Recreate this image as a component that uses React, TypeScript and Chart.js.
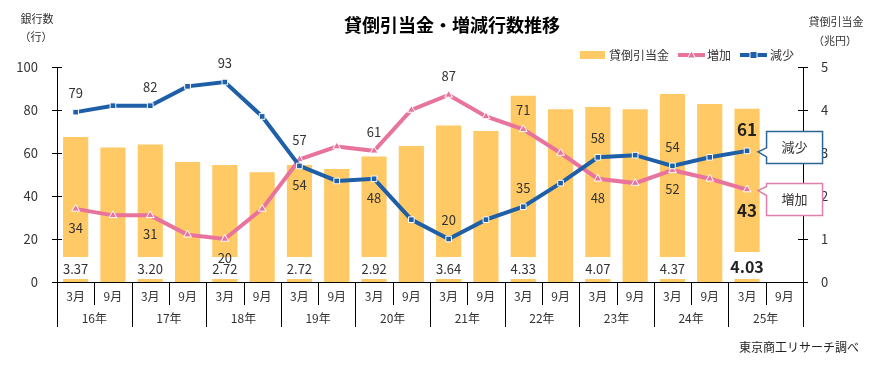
import React, { useEffect, useRef } from "react";
import { Chart, registerables } from "chart.js";

Chart.register(...registerables);

const years = ["16年", "17年", "18年", "19年", "20年", "21年", "22年", "23年", "24年", "25年"];
const months = ["3月", "9月"];
const categories = years.flatMap((y) => months.map((m) => y + m));

// 貸倒引当金 (兆円)
const allowance = [3.37, 3.13, 3.2, 2.79, 2.72, 2.55, 2.72, 2.63, 2.92, 3.16, 3.64, 3.51, 4.33, 4.02, 4.07, 4.02, 4.37, 4.14, 4.03, null];
// 増加 (行)
const increase = [34, 31, 31, 22, 20, 34, 57, 63, 61, 80, 87, 77, 71, 60, 48, 46, 52, 48, 43, null];
// 減少 (行)
const decrease = [79, 82, 82, 91, 93, 77, 54, 47, 48, 29, 20, 29, 35, 46, 58, 59, 54, 58, 61, null];

// label placement for the March points: 1 = above, -1 = below, 0 = none
const increaseLabelSide = [-1, 0, -1, 0, -1, 0, 1, 0, 1, 0, 1, 0, 1, 0, -1, 0, -1, 0, -1, 0];
const decreaseLabelSide = [1, 0, 1, 0, 1, 0, -1, 0, -1, 0, 1, 0, 1, 0, 1, 0, 1, 0, 1, 0];

const BAR = "#FFC966";
const PINK = "#E8739C";
const BLUE = "#1E5FA8";
const FONT = "'Noto Sans CJK JP', 'Noto Sans', sans-serif";
const TXT = "#333333";

const overlay = {
  id: "overlay",
  afterDatasetsDraw(chart: any) {
    const ctx = chart.ctx as CanvasRenderingContext2D;
    const xs = chart.scales.x;
    const ys = chart.scales.y;
    const ca = chart.chartArea;
    const last = allowance.length - 2; // last data index (19th)
    ctx.save();

    // bar value labels with white background
    const barMeta = chart.getDatasetMeta(0);
    allowance.forEach((v, i) => {
      if (v == null || i % 2 !== 0) return;
      const el: any = barMeta.data[i];
      const bold = i === last;
      const txt = v.toFixed(2);
      ctx.font = (bold ? "bold 16px " : "13px ") + FONT;
      const tw = ctx.measureText(txt).width;
      const w = Math.max(el.width, tw + 2);
      const h = bold ? 27 : 22;
      ctx.fillStyle = "#ffffff";
      ctx.fillRect(el.x - w / 2, ca.bottom - 3 - h, w, h);
      ctx.fillStyle = bold ? "#222" : TXT;
      ctx.textAlign = "center";
      ctx.textBaseline = "middle";
      ctx.fillText(txt, el.x, ca.bottom - 3 - h / 2 + 1);
    });

    // line labels
    const drawLineLabels = (data: (number | null)[], side: number[]) => {
      data.forEach((v, i) => {
        if (v == null || !side[i]) return;
        const bold = i === last;
        const x = xs.getPixelForValue(i);
        const y = ys.getPixelForValue(v) - side[i] * (bold ? 21 : 19);
        ctx.font = (bold ? "bold 17px " : "13px ") + FONT;
        ctx.fillStyle = bold ? "#222" : TXT;
        ctx.textAlign = "center";
        ctx.textBaseline = "middle";
        ctx.fillText(String(v), x, y);
      });
    };
    drawLineLabels(increase, increaseLabelSide);
    drawLineLabels(decrease, decreaseLabelSide);
    ctx.restore();
  },
  afterDraw(chart: any) {
    const ctx = chart.ctx as CanvasRenderingContext2D;
    const xs = chart.scales.x;
    const ys = chart.scales.y;
    const y1 = chart.scales.y1;
    const ca = chart.chartArea;
    const last = allowance.length - 2;
    ctx.save();

    // axes lines
    ctx.strokeStyle = "#000";
    ctx.lineWidth = 1;
    const axisBottom = ca.bottom + 45;
    ctx.beginPath();
    ctx.moveTo(Math.round(ca.left) + 0.5, ca.top);
    ctx.lineTo(Math.round(ca.left) + 0.5, axisBottom);
    ctx.moveTo(Math.round(ca.right) + 0.5, ca.top);
    ctx.lineTo(Math.round(ca.right) + 0.5, axisBottom);
    ctx.moveTo(ca.left, Math.round(ca.bottom) + 0.5);
    ctx.lineTo(ca.right, Math.round(ca.bottom) + 0.5);
    // y tick marks
    ys.ticks.forEach((t: any) => {
      const y = Math.round(ys.getPixelForValue(t.value)) + 0.5;
      ctx.moveTo(ca.left - 5, y);
      ctx.lineTo(ca.left + 5, y);
    });
    y1.ticks.forEach((t: any) => {
      const y = Math.round(y1.getPixelForValue(t.value)) + 0.5;
      ctx.moveTo(ca.right - 5, y);
      ctx.lineTo(ca.right + 5, y);
    });
    // category separators
    for (let i = 0; i < categories.length - 1; i++) {
      const bx = Math.round((xs.getPixelForValue(i) + xs.getPixelForValue(i + 1)) / 2) + 0.5;
      ctx.moveTo(bx, ca.bottom);
      ctx.lineTo(bx, i % 2 === 0 ? ca.bottom + 23 : axisBottom);
    }
    ctx.stroke();

    // month / year labels
    ctx.fillStyle = TXT;
    ctx.font = "12px " + FONT;
    ctx.textAlign = "center";
    ctx.textBaseline = "middle";
    categories.forEach((_, i) => {
      ctx.fillText(months[i % 2], xs.getPixelForValue(i), ca.bottom + 14);
    });
    years.forEach((yl, j) => {
      const cx = (xs.getPixelForValue(2 * j) + xs.getPixelForValue(2 * j + 1)) / 2;
      ctx.fillText(yl, cx, ca.bottom + 36);
    });

    // title
    ctx.fillStyle = "#000";
    ctx.font = "bold 18px " + FONT;
    ctx.fillText("貸倒引当金・増減行数推移", 452, 25);

    // axis titles
    ctx.fillStyle = TXT;
    ctx.font = "11px " + FONT;
    ctx.fillText("銀行数", 37, 19);
    ctx.fillText("（行）", 36, 37);
    ctx.fillText("貸倒引当金", 836, 22);
    ctx.fillText("（兆円）", 835, 41);

    // legend
    const ly = 55;
    ctx.fillStyle = BAR;
    ctx.fillRect(580, ly - 4, 25, 8);
    ctx.font = "12px " + FONT;
    ctx.fillStyle = TXT;
    ctx.textAlign = "left";
    ctx.fillText("貸倒引当金", 609, ly);
    ctx.fillText("増加", 707, ly);
    ctx.fillText("減少", 770, ly);
    ctx.lineWidth = 4;
    ctx.strokeStyle = PINK;
    ctx.beginPath();
    ctx.moveTo(678, ly);
    ctx.lineTo(705, ly);
    ctx.stroke();
    ctx.strokeStyle = BLUE;
    ctx.beginPath();
    ctx.moveTo(740, ly);
    ctx.lineTo(767, ly);
    ctx.stroke();
    // legend markers
    ctx.lineWidth = 1;
    ctx.strokeStyle = "#fff";
    ctx.fillStyle = PINK;
    ctx.beginPath();
    ctx.moveTo(691.5, ly - 4);
    ctx.lineTo(695.5, ly + 3);
    ctx.lineTo(687.5, ly + 3);
    ctx.closePath();
    ctx.fill();
    ctx.stroke();
    ctx.fillStyle = BLUE;
    ctx.fillRect(750, ly - 3.5, 7, 7);
    ctx.strokeRect(750, ly - 3.5, 7, 7);

    // callouts
    const callout = (label: string, v: number, color: string, dyTop: number) => {
      const px = xs.getPixelForValue(last);
      const py = ys.getPixelForValue(v);
      const left = px + 19.5;
      const top = Math.round(py + dyTop) + 0.5;
      const w = 56;
      const h = 32;
      const tipX = px + 11;
      ctx.beginPath();
      ctx.moveTo(left, top);
      ctx.lineTo(left + w, top);
      ctx.lineTo(left + w, top + h);
      ctx.lineTo(left, top + h);
      ctx.lineTo(left, py + 6);
      ctx.lineTo(tipX, py + 1);
      ctx.lineTo(left, py - 3);
      ctx.closePath();
      ctx.fillStyle = "#fff";
      ctx.fill();
      ctx.lineWidth = 1.5;
      ctx.strokeStyle = color;
      ctx.stroke();
      ctx.fillStyle = TXT;
      ctx.font = "13px " + FONT;
      ctx.textAlign = "center";
      ctx.textBaseline = "middle";
      ctx.fillText(label, left + w / 2, top + h / 2);
    };
    callout("減少", decrease[last] as number, "#2B6593", -20);
    callout("増加", increase[last] as number, "#E07FAD", -7);

    // source
    ctx.fillStyle = "#222";
    ctx.font = "12px " + FONT;
    ctx.textAlign = "right";
    ctx.fillText("東京商工リサーチ調べ", 859, 347);
    ctx.restore();
  },
};

export default function App() {
  const ref = useRef<HTMLCanvasElement>(null);
  useEffect(() => {
    document.body.style.margin = "0";
    const chart = new Chart(ref.current as HTMLCanvasElement, {
      type: "bar",
      data: {
        labels: categories,
        datasets: [
          {
            type: "bar",
            label: "貸倒引当金",
            data: allowance,
            yAxisID: "y1",
            backgroundColor: BAR,
            barPercentage: 0.9,
            categoryPercentage: 0.75,
            order: 3,
          } as any,
          {
            type: "line",
            label: "増加",
            data: increase,
            yAxisID: "y",
            borderColor: PINK,
            borderWidth: 4,
            pointStyle: "triangle",
            pointRadius: 4.5,
            pointBackgroundColor: PINK,
            pointBorderColor: "#ffffff",
            pointBorderWidth: 1,
            tension: 0,
            order: 2,
          },
          {
            type: "line",
            label: "減少",
            data: decrease,
            yAxisID: "y",
            borderColor: BLUE,
            borderWidth: 4,
            pointStyle: "rect",
            pointRadius: 4,
            pointBackgroundColor: BLUE,
            pointBorderColor: "#ffffff",
            pointBorderWidth: 1,
            tension: 0,
            order: 1,
          },
        ],
      },
      options: {
        responsive: false,
        animation: false,
        layout: { padding: { top: 67, left: 0, right: 0, bottom: 0 } },
        plugins: { legend: { display: false }, title: { display: false }, tooltip: { enabled: false } },
        scales: {
          x: {
            grid: { display: false },
            border: { display: false },
            ticks: { display: false },
            afterFit: (s: any) => {
              s.height = 85;
            },
          },
          y: {
            position: "left",
            min: 0,
            max: 100,
            grid: { display: false },
            border: { display: false },
            ticks: { stepSize: 20, padding: 11, color: TXT, font: { size: 13, family: FONT } },
            afterFit: (s: any) => {
              s.width = 57;
            },
          },
          y1: {
            position: "right",
            min: 0,
            max: 5,
            grid: { display: false },
            border: { display: false },
            ticks: { stepSize: 1, padding: 10, color: TXT, font: { size: 13, family: FONT } },
            afterFit: (s: any) => {
              s.width = 81;
            },
          },
        },
      },
      plugins: [overlay],
    });
    return () => chart.destroy();
  }, []);
  return (
    <div style={{ width: 884, height: 367, background: "#fff" }}>
      <canvas ref={ref} width={884} height={367} style={{ display: "block" }} />
    </div>
  );
}
